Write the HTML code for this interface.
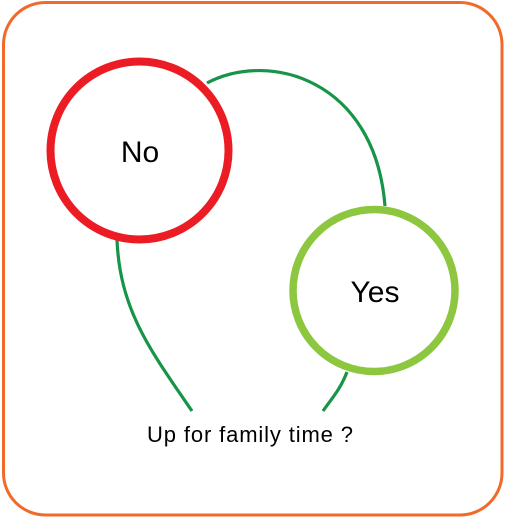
<!DOCTYPE html>
<html><head><style>html,body{margin:0;padding:0;background:#fff;}svg{display:block}</style></head>
<body>
<svg width="506" height="518" viewBox="0 0 506 518" xmlns="http://www.w3.org/2000/svg">
<rect x="3.5" y="2.5" width="498.5" height="512.5" rx="42" ry="42" fill="#fff" stroke="#F26A2A" stroke-width="3"/>
<g fill="none" stroke="#169447" stroke-width="3.2" stroke-linecap="butt">
<path d="M207,83 C270,50 375,80 385,206"/>
<path d="M117,240 C120,310 150,350 192,411"/>
<path d="M347,372 C340,390 332,398 323,411"/>
</g>
<circle cx="139.5" cy="150.5" r="89" fill="#fff" stroke="#EC1C24" stroke-width="8"/>
<circle cx="374" cy="290.5" r="81" fill="#fff" stroke="#8DC63F" stroke-width="7.5"/>
<g font-family="'Liberation Sans', sans-serif" fill="#000" text-anchor="middle">
<text x="140" y="162" font-size="30">No</text>
<text x="375" y="302" font-size="30">Yes</text>
<text x="250" y="442" font-size="22" textLength="206" lengthAdjust="spacing">Up for family time ?</text>
</g>
</svg>
</body></html>
